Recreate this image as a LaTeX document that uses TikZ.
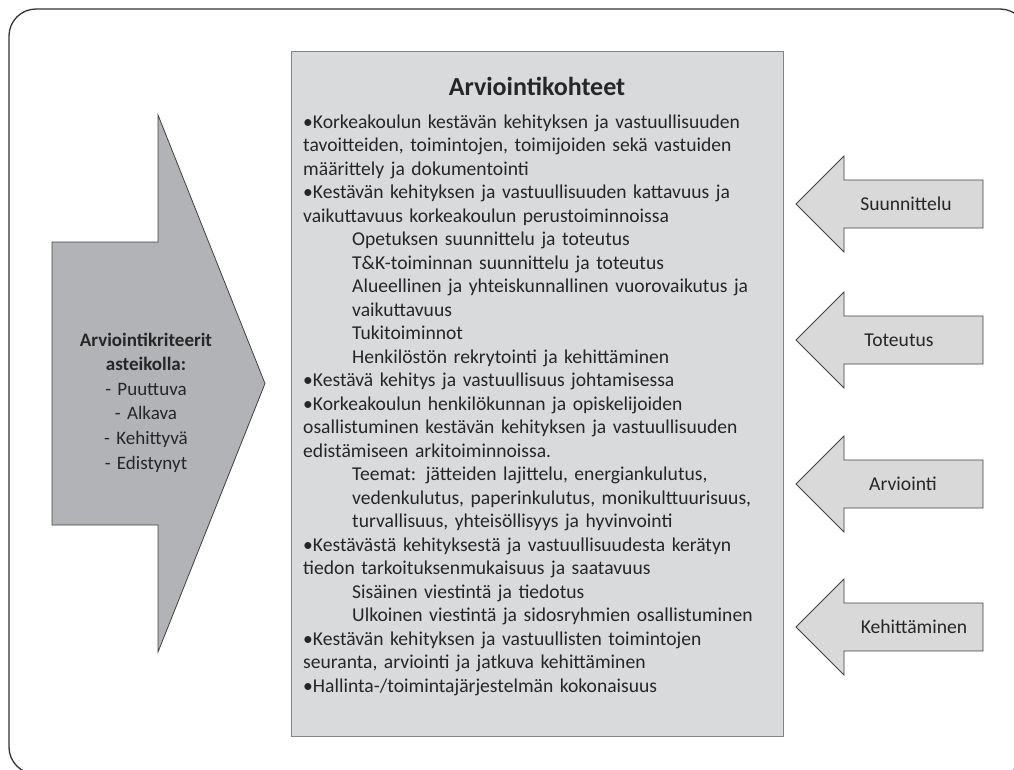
\documentclass[tikz,border=0pt]{standalone}
\usepackage{fontspec}
\setmainfont{Carlito}
\definecolor{panelgray}{HTML}{D9DADC}
\definecolor{arrowgray}{HTML}{B2B3B6}
\definecolor{sidegray}{HTML}{D9D9DA}
\definecolor{inkgray}{HTML}{262626}
\definecolor{edgegray}{HTML}{858585}
\begin{document}
\begin{tikzpicture}[x=1pt,y=-1pt,
  frame/.style={draw=black!80, line width=1.3pt, rounded corners=27pt},
  panel/.style={draw=edgegray, fill=panelgray, line width=1.3pt},
  bigarrow/.style={draw=black!75, fill=arrowgray, line width=0.8pt},
  sidearrow/.style={draw=black!75, fill=sidegray, line width=0.8pt},
  body/.style={text=inkgray, inner sep=0pt},
  sidelabel/.style={body, font=\fontsize{19.6}{23.5}\selectfont, anchor=base},
]
\useasboundingbox (0,0) rectangle (1014,769);

% outer frame, running past the page edge on the right and bottom
\begin{scope}
  \clip (0,0) rectangle (1014,769);
  \draw[frame] (9,9) rectangle (1027,774);
\end{scope}

% central panel
\node (panel) [panel, anchor=north west, minimum width=492pt, minimum height=685pt, inner sep=0pt] at (291,51) {};

% big arrow on the left
\draw[bigarrow] (52,242) -- (158,242) -- (158,115) -- (265,383.5) -- (158,652) -- (158,525) -- (52,525) -- cycle;
\node (criteria) [body, anchor=base, text width=200pt, align=center, font=\fontsize{19}{24.6}\selectfont] at (146,346)
  {\textbf{Arviointikriteerit}\\ \textbf{asteikolla:}\\ - Puuttuva\\ - Alkava\\ - Kehittyvä\\ - Edistynyt};

% side arrows pointing into the panel
\foreach \c/\name in {204/a1, 340/a2, 484/a3, 627/a4} {
  \draw[sidearrow] (983,\c-24) -- (844,\c-24) -- (844,\c-48) -- (796,\c) -- (844,\c+48) -- (844,\c+24) -- (983,\c+24) -- cycle;
}
\node (l1) [sidelabel] at (906,210) {Suunnittelu};
\node (l2) [sidelabel] at (899,346) {Toteutus};
\node (l3) [sidelabel] at (903,490) {Arviointi};
\node (l4) [sidelabel] at (914,633) {Kehittäminen};

% panel contents
\node (title) [body, anchor=base, font=\bfseries\fontsize{26}{30}\selectfont] at (537,95) {Arviointikohteet};
\node (items) [body, anchor=base west, text width=475pt, align=left, font=\fontsize{19.6}{23.5}\selectfont] at (303,128) {%
•Korkeakoulun kestävän kehityksen ja vastuullisuuden\\
tavoitteiden, toimintojen, toimijoiden sekä vastuiden\\
määrittely ja dokumentointi\\
•Kestävän kehityksen ja vastuullisuuden kattavuus ja\\
vaikuttavuus korkeakoulun perustoiminnoissa\\
\hspace*{49pt}Opetuksen suunnittelu ja toteutus\\
\hspace*{49pt}T\&K-toiminnan suunnittelu ja toteutus\\
\hspace*{49pt}Alueellinen ja yhteiskunnallinen vuorovaikutus ja\\
\hspace*{49pt}vaikuttavuus\\
\hspace*{49pt}Tukitoiminnot\\
\hspace*{49pt}Henkilöstön rekrytointi ja kehittäminen\\
•Kestävä kehitys ja vastuullisuus johtamisessa\\
•Korkeakoulun henkilökunnan ja opiskelijoiden\\
osallistuminen kestävän kehityksen ja vastuullisuuden\\
edistämiseen arkitoiminnoissa.\\
\hspace*{49pt}Teemat: jätteiden lajittelu, energiankulutus,\\
\hspace*{49pt}vedenkulutus, paperinkulutus, monikulttuurisuus,\\
\hspace*{49pt}turvallisuus, yhteisöllisyys ja hyvinvointi\\
•Kestävästä kehityksestä ja vastuullisuudesta kerätyn\\
tiedon tarkoituksenmukaisuus ja saatavuus\\
\hspace*{49pt}Sisäinen viestintä ja tiedotus\\
\hspace*{49pt}Ulkoinen viestintä ja sidosryhmien osallistuminen\\
•Kestävän kehityksen ja vastuullisten toimintojen\\
seuranta, arviointi ja jatkuva kehittäminen\\
•Hallinta-/toimintajärjestelmän kokonaisuus};
\end{tikzpicture}
\end{document}
